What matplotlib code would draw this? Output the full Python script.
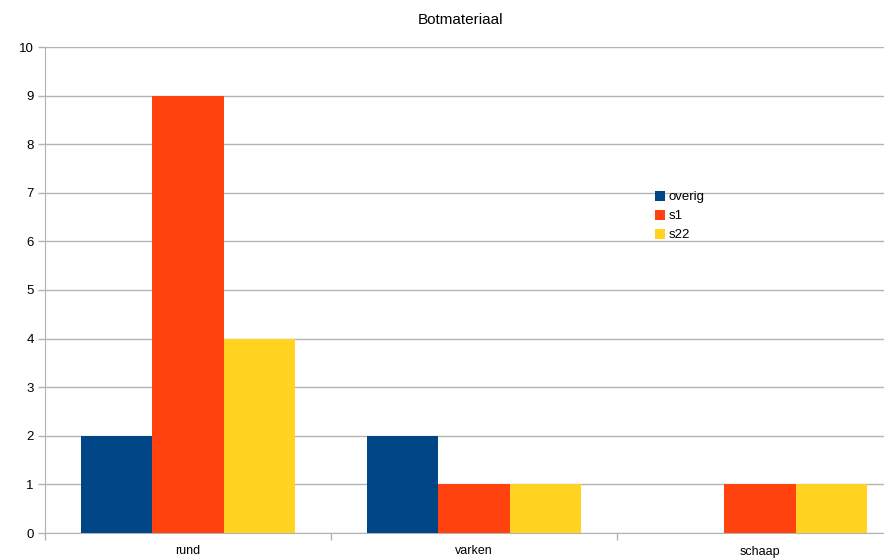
import numpy as np
import matplotlib.pyplot as plt

plt.rcParams['font.family'] = ['Liberation Sans', 'DejaVu Sans']

# Data
categories = ["rund", "varken", "schaap"]
series_names = ["overig", "s1", "s22"]
overig = [2, 2, 0]
s1 = [9, 1, 1]
s22 = [4, 1, 1]
colors = ["#004586", "#ff420e", "#ffd320"]

W, H = 884, 558
fig = plt.figure(figsize=(W/100, H/100), dpi=100)
# plot area: left edge at x=45, categories 286 px wide (right side runs past the image)
left, bottom, top = 45, 533, 47
cat_w = 286
ax = fig.add_axes([left/W, (H-bottom)/H, 3*cat_w/W, (bottom-top)/H])

x = np.arange(len(categories))
bw = 0.25
for i, (vals, name) in enumerate(zip([overig, s1, s22], series_names)):
    ax.bar(x + (i-1)*bw, vals, width=bw, color=colors[i], label=name, zorder=3)

ax.set_xlim(-0.5, 2.5)
ax.set_ylim(0, 10)
ax.set_yticks(range(0, 11))
ax.yaxis.grid(True, color="#b3b3b3", linewidth=1, zorder=0)
ax.set_xticks(x)
ax.set_xticklabels(categories, fontsize=9)
ax.set_xticks([-0.5, 0.5, 1.5, 2.5], minor=True)
ax.tick_params(axis="x", which="major", length=0, pad=9)
ax.tick_params(axis="x", which="minor", length=5, color="#b3b3b3", width=1)
ax.tick_params(axis="y", length=5, color="#b3b3b3", width=1, labelsize=9.5, pad=3)
for s in ["top", "right"]:
    ax.spines[s].set_visible(False)
ax.spines["left"].set_color("#b3b3b3")
ax.spines["bottom"].set_color("#b3b3b3")

fig.text(460/W, 1 - 20/H, "Botmateriaal", ha="center", va="center", fontsize=11)

ax.legend(loc="upper left", bbox_to_anchor=((655-left)/(3*cat_w), (bottom-191)/(bottom-top)),
          frameon=False, fontsize=9.5, handlelength=0.75, handleheight=0.75,
          handletextpad=0.3, labelspacing=0.5, borderaxespad=0, borderpad=0)

fig.savefig("out.png", dpi=100)
